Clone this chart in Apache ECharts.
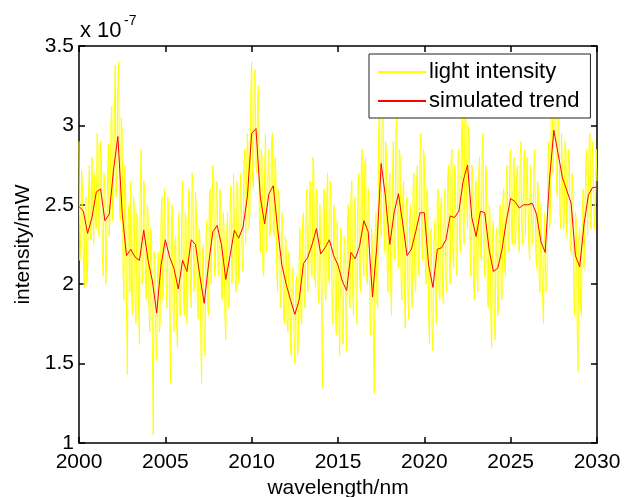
<!DOCTYPE html>
<html>
<head>
<meta charset="utf-8">
<script src="https://cdn.jsdelivr.net/npm/echarts@6/dist/echarts.min.js"></script>
<style>
* { margin: 0; padding: 0; }
body { background: #fff; }
</style>
</head>
<body>
<div id="chart" style="width: 625px;height: 497px;"></div>
<script>
// values are in units of 1e-7 mW
const yTicks = [1, 1.5, 2, 2.5, 3, 3.5]
const xTicks = [2000, 2005, 2010, 2015, 2020, 2025, 2030]

// light intensity, sampled every 0.05 nm from 2000 (one row per nm)
const lightStart = 2000
const lightStep = 0.05
const lightIntensity = [
    2.90, 2.15, 2.30, 2.72, 2.62, 2.20, 1.98, 2.45, 2.55, 2.00, 2.10, 2.58, 2.75, 2.35, 2.28, 2.80, 2.45, 2.25, 2.70, 2.40,
    2.35, 2.95, 2.85, 2.30, 2.40, 2.90, 2.78, 2.20, 2.05, 2.70, 2.62, 2.00, 2.15, 2.65, 2.88, 2.30, 2.45, 3.00, 3.12, 2.40,
    2.50, 3.10, 3.38, 2.55, 2.70, 3.30, 3.40, 2.45, 2.40, 3.05, 2.95, 2.10, 1.90, 2.75, 2.60, 1.85, 1.43, 2.40, 2.50, 1.95,
    2.65, 1.95, 1.80, 2.55, 2.50, 1.90, 1.75, 2.45, 2.40, 1.85, 1.62, 2.60, 2.85, 2.00, 2.05, 2.65, 2.60, 2.00, 1.90, 2.50,
    2.45, 1.85, 1.70, 2.35, 2.30, 1.60, 1.05, 2.20, 2.15, 1.65, 1.52, 2.10, 2.20, 1.70, 1.75, 2.40, 2.55, 1.90, 2.00, 2.60,
    2.60, 2.00, 1.85, 2.55, 2.35, 1.80, 1.38, 2.40, 2.50, 1.85, 1.70, 2.25, 2.30, 1.75, 1.60, 2.35, 2.45, 1.80, 1.90, 2.50,
    2.65, 1.90, 1.80, 2.45, 2.40, 1.75, 1.95, 2.60, 2.55, 2.00, 1.85, 2.70, 2.62, 1.95, 2.05, 2.58, 2.45, 1.90, 1.78, 2.35,
    2.30, 1.70, 1.37, 2.20, 2.25, 1.60, 1.55, 2.30, 2.40, 1.85, 1.80, 2.55, 2.60, 2.00, 2.00, 2.75, 2.68, 2.05, 2.10, 2.60,
    2.65, 2.10, 2.05, 2.60, 2.55, 1.95, 1.90, 2.45, 2.35, 1.80, 1.65, 2.30, 2.45, 1.85, 1.88, 2.50, 2.62, 2.00, 2.05, 2.70,
    2.70, 2.05, 1.95, 2.65, 2.60, 2.00, 2.10, 2.70, 2.55, 2.15, 2.08, 2.75, 2.85, 2.25, 2.25, 2.95, 2.80, 2.35, 2.45, 3.20,
    3.40, 2.65, 2.60, 3.30, 3.35, 2.75, 2.70, 3.20, 3.25, 2.40, 2.20, 2.85, 2.80, 2.10, 2.05, 2.70, 2.95, 2.20, 2.30, 2.80,
    2.85, 2.30, 2.35, 2.90, 2.95, 2.35, 2.30, 2.80, 2.70, 2.10, 1.95, 2.60, 2.55, 1.95, 1.85, 2.45, 2.40, 1.80, 1.75, 2.30,
    2.25, 1.75, 1.70, 2.20, 2.15, 1.60, 1.55, 2.05, 2.10, 1.65, 1.50, 2.00, 2.05, 1.55, 1.60, 2.15, 2.35, 1.80, 1.75, 2.40,
    2.45, 1.90, 1.85, 2.50, 2.60, 1.95, 1.95, 2.55, 2.65, 2.10, 2.05, 2.80, 2.70, 2.05, 1.98, 2.60, 2.55, 1.95, 1.88, 2.50,
    2.50, 1.85, 1.35, 2.45, 2.60, 1.95, 1.90, 2.55, 2.70, 2.05, 2.00, 2.65, 2.55, 1.90, 1.75, 2.50, 2.45, 1.80, 1.68, 2.40,
    2.40, 1.80, 1.55, 2.35, 2.30, 1.70, 1.62, 2.30, 2.25, 1.75, 1.58, 2.40, 2.50, 1.90, 1.85, 2.55, 2.65, 1.95, 1.80, 2.50,
    2.55, 1.90, 1.75, 2.60, 2.70, 2.05, 1.95, 2.75, 2.85, 2.15, 2.05, 2.75, 2.80, 2.05, 2.00, 2.60, 2.50, 1.80, 1.68, 2.35,
    2.20, 1.65, 1.31, 2.30, 2.45, 1.90, 1.85, 2.90, 3.22, 2.45, 2.30, 3.10, 3.30, 2.40, 2.20, 2.90, 2.85, 2.10, 1.95, 2.60,
    2.70, 2.00, 1.80, 2.65, 2.90, 2.25, 2.15, 2.95, 3.05, 2.30, 2.10, 2.85, 2.80, 2.05, 1.90, 2.55, 2.65, 1.95, 1.72, 2.50,
    2.55, 1.90, 1.78, 2.45, 2.50, 1.95, 1.85, 2.60, 2.70, 2.05, 1.95, 2.65, 2.75, 2.15, 2.05, 2.80, 2.95, 2.25, 2.15, 2.85,
    2.80, 2.15, 2.00, 2.60, 2.50, 1.80, 1.62, 2.30, 2.35, 1.70, 1.58, 2.25, 2.40, 1.85, 1.75, 2.55, 2.60, 1.95, 1.90, 2.50,
    2.55, 1.95, 1.88, 2.50, 2.60, 2.00, 1.95, 2.65, 2.75, 2.15, 2.00, 2.80, 2.85, 2.20, 2.10, 2.75, 2.70, 2.15, 2.05, 2.80,
    2.85, 2.25, 2.20, 2.95, 3.05, 2.40, 2.25, 3.10, 3.30, 2.50, 2.35, 3.00, 2.90, 2.20, 2.05, 2.75, 2.70, 2.00, 1.90, 2.60,
    2.65, 2.05, 1.95, 2.70, 2.80, 2.20, 2.15, 2.85, 2.95, 2.20, 2.05, 2.75, 2.70, 1.95, 1.85, 2.50, 2.45, 1.80, 1.60, 2.35,
    2.40, 1.80, 1.65, 2.30, 2.35, 1.80, 1.85, 2.45, 2.50, 1.95, 1.90, 2.55, 2.60, 2.10, 2.05, 2.70, 2.75, 2.25, 2.20, 2.80,
    2.85, 2.30, 2.25, 2.75, 2.80, 2.25, 2.30, 2.70, 2.75, 2.30, 2.20, 2.80, 2.90, 2.30, 2.25, 2.75, 2.85, 2.30, 2.30, 2.80,
    2.80, 2.25, 2.15, 2.75, 2.75, 2.25, 2.30, 2.80, 2.85, 2.20, 2.10, 2.65, 2.60, 2.05, 1.95, 2.50, 2.50, 1.90, 1.75, 2.45,
    2.45, 1.95, 2.00, 2.70, 2.90, 2.35, 2.40, 3.10, 3.30, 2.70, 2.70, 3.20, 3.25, 2.60, 2.55, 3.10, 3.05, 2.45, 2.35, 2.95,
    2.95, 2.35, 2.40, 2.90, 2.85, 2.30, 2.30, 2.85, 2.80, 2.25, 2.20, 2.70, 2.65, 1.95, 1.80, 2.45, 2.40, 1.75, 1.45, 2.30,
    2.35, 1.85, 1.80, 2.45, 2.60, 2.10, 2.10, 2.75, 2.85, 2.30, 2.30, 2.90, 2.95, 2.35, 2.35, 2.90, 2.90, 2.35, 2.40, 2.85,
    2.65
]

// simulated trend, sampled every 0.25 nm from 2000
const trendStart = 2000
const trendStep = 0.25
const simulatedTrend = [
    2.49, 2.46, 2.32, 2.42, 2.58, 2.60, 2.40, 2.44,
    2.72, 2.93, 2.45, 2.18, 2.22, 2.17, 2.15, 2.34,
    2.15, 2.02, 1.82, 2.12, 2.28, 2.17, 2.10, 1.97,
    2.15, 2.08, 2.28, 2.25, 2.05, 1.88, 2.12, 2.33,
    2.37, 2.25, 2.03, 2.18, 2.34, 2.29, 2.36, 2.55,
    2.95, 2.98, 2.55, 2.38, 2.57, 2.62, 2.35, 2.12,
    2.00, 1.90, 1.81, 1.90, 2.13, 2.17, 2.25, 2.35,
    2.19, 2.23, 2.28, 2.18, 2.12, 2.02, 1.96, 2.20,
    2.16, 2.24, 2.40, 2.33, 1.92, 2.24, 2.76, 2.55,
    2.25, 2.45, 2.57, 2.38, 2.18, 2.22, 2.33, 2.45,
    2.45, 2.12, 1.98, 2.22, 2.23, 2.28, 2.43, 2.42,
    2.46, 2.65, 2.75, 2.42, 2.30, 2.46, 2.45, 2.22,
    2.08, 2.10, 2.22, 2.40, 2.54, 2.52, 2.48, 2.50,
    2.50, 2.51, 2.44, 2.27, 2.20, 2.66, 2.97, 2.82,
    2.67, 2.59, 2.51, 2.18, 2.11, 2.38, 2.56, 2.61,
    2.61
]

const pairs = (start, step, vals) => vals.map((v, i) => [+(start + i * step).toFixed(2), v])

const font = 'Liberation Sans, Arial, sans-serif'
const tickStyle = { show: true, inside: true, length: 6, lineStyle: { color: '#000', width: 1.5 } }
const lineStyle = { show: true, lineStyle: { color: '#000', width: 1.5 } }

const chart = echarts.init(document.getElementById('chart'))
chart.setOption({
    animation: false,
    backgroundColor: '#fff',
    grid: { left: 79, right: 28, top: 46, bottom: 54, containLabel: false, outerBoundsMode: 'none' },
    legend: {
        left: 369,
        top: 54,
        orient: 'vertical',
        itemWidth: 48,
        itemHeight: 2,
        itemGap: 7,
        icon: 'rect',
        padding: [7, 11, 6, 9],
        borderColor: '#222',
        borderWidth: 1,
        backgroundColor: '#fff',
        textStyle: { fontFamily: font, fontSize: 22, color: '#000', padding: [0, 0, 0, -2] },
        data: ['light intensity', 'simulated trend']
    },
    xAxis: [{
        type: 'value',
        min: xTicks[0],
        max: xTicks[xTicks.length - 1],
        interval: 5,
        name: 'wavelength/nm',
        nameLocation: 'middle',
        nameGap: 35,
        nameTextStyle: { fontFamily: font, fontSize: 21, color: '#000' },
        axisLine: lineStyle,
        axisTick: tickStyle,
        axisLabel: { fontFamily: font, fontSize: 21, color: '#000', margin: 9, formatter: v => String(v) },
        splitLine: { show: false }
    }, {
        type: 'value',
        position: 'top',
        min: xTicks[0],
        max: xTicks[xTicks.length - 1],
        interval: 5,
        axisLine: lineStyle,
        axisTick: tickStyle,
        axisLabel: { show: false },
        splitLine: { show: false }
    }],
    yAxis: [{
        type: 'value',
        min: yTicks[0],
        max: yTicks[yTicks.length - 1],
        interval: 0.5,
        name: 'intensity/mW',
        nameLocation: 'middle',
        nameGap: 45,
        nameTextStyle: { fontFamily: font, fontSize: 21, color: '#000' },
        axisLine: lineStyle,
        axisTick: tickStyle,
        axisLabel: { fontFamily: font, fontSize: 21, color: '#000', margin: 5 },
        splitLine: { show: false }
    }, {
        type: 'value',
        position: 'right',
        min: yTicks[0],
        max: yTicks[yTicks.length - 1],
        interval: 0.5,
        axisLine: lineStyle,
        axisTick: tickStyle,
        axisLabel: { show: false },
        splitLine: { show: false }
    }],
    graphic: [
        { type: 'text', left: 80, top: 20, style: { text: 'x 10', fontFamily: font, fontSize: 22, fill: '#000' } },
        { type: 'text', left: 124, top: 14, style: { text: '-7', fontFamily: font, fontSize: 14, fill: '#000' } }
    ],
    series: [{
        name: 'light intensity',
        type: 'line',
        symbol: 'none',
        color: '#ffff00',
        lineStyle: { color: '#ffff00', width: 1 },
        data: pairs(lightStart, lightStep, lightIntensity)
    }, {
        name: 'simulated trend',
        type: 'line',
        symbol: 'none',
        color: '#ff0000',
        lineStyle: { color: '#ff0000', width: 1 },
        data: pairs(trendStart, trendStep, simulatedTrend)
    }]
})
</script>
</body>
</html>
